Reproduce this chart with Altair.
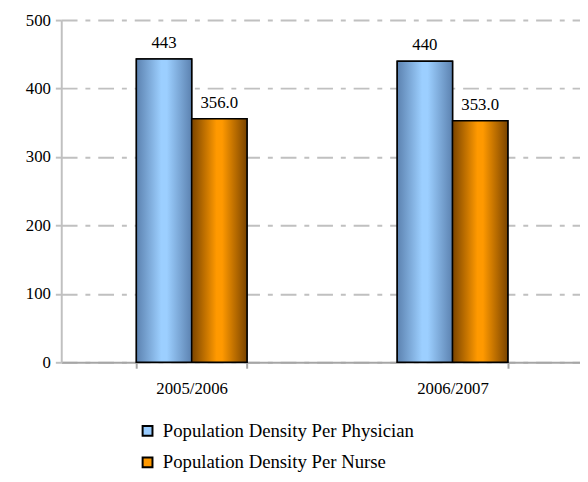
import altair as alt
import pandas as pd

years = ["2005/2006", "2006/2007"]
series = ["Population Density Per Physician", "Population Density Per Nurse"]
physician = [443, 440]
nurse = [356, 353]
physician_labels = ["443", "440"]
nurse_labels = ["356.0", "353.0"]
y_ticks = [0, 100, 200, 300, 400, 500]

rows = []
for i, yr in enumerate(years):
    rows.append({"year": yr, "series": series[0], "value": physician[i], "label": physician_labels[i]})
    rows.append({"year": yr, "series": series[1], "value": nurse[i], "label": nurse_labels[i]})
df = pd.DataFrame(rows)

FONT = "Liberation Serif"

x_enc = alt.X(
    "year:N", sort=years, title=None,
    scale=alt.Scale(paddingInner=0.576, paddingOuter=0.288, range=[0, 529]),
    axis=alt.Axis(labelAngle=0, tickBand="extent", domainColor="#a6a6a6", domainWidth=2,
                  tickColor="#a6a6a6", tickWidth=2, tickSize=6, labelPadding=13,
                  labelFont=FONT, labelFontSize=17, labelColor="black", grid=False),
)
xoff = alt.XOffset("series:N", sort=series, scale=alt.Scale(domain=series, paddingInner=0, paddingOuter=0))
y_enc = alt.Y(
    "value:Q", title=None,
    scale=alt.Scale(domain=[0, 500], nice=False),
    axis=alt.Axis(values=y_ticks, domainColor="#c0c0c0", domainWidth=2, tickColor="#c0c0c0",
                  tickWidth=2, tickSize=6, labelPadding=5, labelFont=FONT, labelFontSize=17,
                  labelColor="black", grid=True, gridColor="#c0c0c0", gridWidth=2,
                  gridDash=[16, 8, 5, 8]),
)

base = alt.Chart(df)

legend_bars = base.mark_bar(stroke="black", strokeWidth=1.5).encode(
    x=x_enc, xOffset=xoff, y=y_enc,
    color=alt.Color(
        "series:N", sort=series,
        scale=alt.Scale(domain=series, range=["#99ccff", "#ff9900"]),
        legend=alt.Legend(
            title=None, orient="none", legendX=78, legendY=407, direction="vertical",
            symbolType="square", symbolSize=100, symbolStrokeColor="black", symbolStrokeWidth=2,
            labelFont=FONT, labelFontSize=19, labelColor="black", labelOffset=6,
            rowPadding=12, labelLimit=500,
        ),
    ),
)

blue_grad = alt.LinearGradient(
    gradient="linear", x1=0, x2=1, y1=0, y2=0,
    stops=[alt.GradientStop(color="#5c82b0", offset=0),
           alt.GradientStop(color="#9ccfff", offset=0.45),
           alt.GradientStop(color="#9ccfff", offset=0.55),
           alt.GradientStop(color="#5c82b0", offset=1)],
)
orange_grad = alt.LinearGradient(
    gradient="linear", x1=0, x2=1, y1=0, y2=0,
    stops=[alt.GradientStop(color="#7a4400", offset=0),
           alt.GradientStop(color="#ff9900", offset=0.45),
           alt.GradientStop(color="#ff9900", offset=0.55),
           alt.GradientStop(color="#7a4400", offset=1)],
)

phys_bars = base.transform_filter(alt.datum.series == series[0]).mark_bar(
    fill=blue_grad, stroke="black", strokeWidth=1.5
).encode(x=x_enc, xOffset=xoff, y=y_enc)

nurse_bars = base.transform_filter(alt.datum.series == series[1]).mark_bar(
    fill=orange_grad, stroke="black", strokeWidth=1.5
).encode(x=x_enc, xOffset=xoff, y=y_enc)

labels = base.mark_text(baseline="alphabetic", dy=-11, font=FONT, fontSize=17, color="black").encode(
    x=x_enc, xOffset=xoff, y=y_enc, text="label:N"
)

chart = alt.layer(legend_bars, phys_bars, nurse_bars, labels).properties(
    width=526, height=347,
    autosize=alt.AutoSizeParams(type="none"),
    padding={"left": 54, "top": 9, "right": 0, "bottom": 110},
).configure_view(stroke=None)

chart.save("out.html", embed_options={"renderer": "svg", "actions": False})
